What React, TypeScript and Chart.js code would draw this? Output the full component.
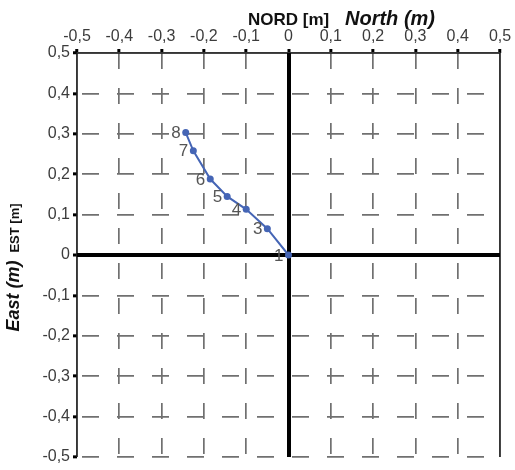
import { useEffect, useRef } from "react";
import { Chart, registerables } from "chart.js";

Chart.register(...registerables);

// Data (North = x, East = y), metres
const northValues = [0, -0.05, -0.1, -0.145, -0.185, -0.225, -0.243];
const eastValues = [0, 0.065, 0.113, 0.145, 0.188, 0.258, 0.303];
const pointLabels = ["1", "3", "4", "5", "6", "7", "8"];

const axisMin = -0.5;
const axisMax = 0.5;
const axisStep = 0.1;

const titleNord = "NORD [m]";
const titleNorth = "North (m)";
const titleEst = "EST [m]";
const titleEast = "East (m)";

const FONT = "'Liberation Sans', Arial, sans-serif";

const fmt = (v: number) => {
  if (Math.abs(v) < 1e-9) return "0";
  return v.toFixed(1).replace(".", ",");
};

const isZero = (v: number) => Math.abs(v) < 1e-9;
const isEdge = (v: number) => Math.abs(Math.abs(v) - 0.5) < 1e-9;
const isTop = (v: number) => Math.abs(v - 0.5) < 1e-9;

const overlayPlugin = {
  id: "overlay",
  beforeDatasetsDraw(chart: any) {
    const { ctx, chartArea, scales } = chart;
    const xs = scales.x;
    const ys = scales.y;
    ctx.save();
    ctx.strokeStyle = "#222";
    ctx.lineWidth = 1.5;
    ctx.setLineDash([]);
    const xl = xs.getPixelForValue(axisMin);
    const xr = xs.getPixelForValue(axisMax);
    const yt = ys.getPixelForValue(axisMax);
    ctx.beginPath();
    ctx.moveTo(xl, chartArea.bottom);
    ctx.lineTo(xl, yt);
    ctx.lineTo(xr, yt);
    ctx.lineTo(xr, chartArea.bottom);
    ctx.stroke();
    ctx.strokeStyle = "#000";
    ctx.lineWidth = 4;
    const x0 = Math.round(xs.getPixelForValue(0));
    const y0 = Math.round(ys.getPixelForValue(0));
    ctx.beginPath();
    ctx.moveTo(x0, chartArea.top);
    ctx.lineTo(x0, chartArea.bottom);
    ctx.moveTo(chartArea.left, y0);
    ctx.lineTo(chartArea.right, y0);
    ctx.stroke();
    ctx.restore();
  },
  afterDatasetsDraw(chart: any) {
    const { ctx } = chart;
    const meta = chart.getDatasetMeta(0);
    ctx.save();
    ctx.fillStyle = "#555";
    ctx.font = `17px ${FONT}`;
    ctx.textAlign = "right";
    ctx.textBaseline = "middle";
    meta.data.forEach((el: any, i: number) => {
      ctx.fillText(pointLabels[i], el.x - 5, el.y + 1);
    });
    ctx.restore();
  },
  afterDraw(chart: any) {
    const { ctx } = chart;
    ctx.save();
    ctx.fillStyle = "#111";
    ctx.textBaseline = "alphabetic";
    ctx.textAlign = "left";
    ctx.font = `bold 17px ${FONT}`;
    ctx.fillText(titleNord, 248, 25);
    ctx.font = `italic bold 20px ${FONT}`;
    ctx.fillText(titleNorth, 345, 25);
    ctx.textAlign = "center";
    ctx.save();
    ctx.translate(19, 228);
    ctx.rotate(-Math.PI / 2);
    ctx.font = `bold 13px ${FONT}`;
    ctx.fillText(titleEst, 0, 0);
    ctx.restore();
    ctx.save();
    ctx.translate(19, 296);
    ctx.rotate(-Math.PI / 2);
    ctx.font = `italic bold 18px ${FONT}`;
    ctx.fillText(titleEast, 0, 0);
    ctx.restore();
    ctx.restore();
  },
};

export default function App() {
  const canvasRef = useRef<HTMLCanvasElement | null>(null);

  useEffect(() => {
    if (!canvasRef.current) return;
    const gridColor = (c: any) =>
      isZero(c.tick.value) ? "#000" : "#707070";
    const chart = new Chart(canvasRef.current, {
      type: "scatter",
      data: {
        datasets: [
          {
            data: northValues.map((x, i) => ({ x, y: eastValues[i] })),
            showLine: true,
            borderColor: "#4565b5",
            backgroundColor: "#4565b5",
            borderWidth: 2,
            pointRadius: 3.5,
            pointBorderWidth: 0,
          },
        ],
      },
      options: {
        responsive: false,
        animation: false,
        devicePixelRatio: 1,
        layout: { padding: { left: 0, top: 0, right: 15, bottom: 13 } },
        plugins: {
          legend: { display: false },
          tooltip: { enabled: false },
        },
        scales: {
          x: {
            type: "linear",
            position: "top",
            min: axisMin,
            max: axisMax,
            afterFit: (s: any) => {
              s.height = 53;
            },
            ticks: {
              stepSize: axisStep,
              color: "#3c3c3c",
              font: { family: FONT, size: 16 },
              padding: 3,
              maxRotation: 0,
              autoSkip: false,
              callback: (v: any) => fmt(Number(v)),
            },
            grid: {
              color: gridColor,
              lineWidth: (c: any) =>
                isZero(c.tick.value) ? 4 : isEdge(c.tick.value) ? 1.5 : 1.7,
              tickColor: "#000",
              tickWidth: 3,
              tickLength: 4,
            },
            border: {
              display: false,
              dash: (c: any) =>
                isZero(c.tick.value) || isEdge(c.tick.value) ? [] : [16, 19],
              dashOffset: 0,
            },
          },
          y: {
            type: "linear",
            position: "left",
            min: axisMin,
            max: axisMax,
            afterFit: (s: any) => {
              s.width = 77;
            },
            ticks: {
              stepSize: axisStep,
              color: "#3c3c3c",
              font: { family: FONT, size: 16 },
              padding: 3,
              autoSkip: false,
              callback: (v: any) => fmt(Number(v)),
            },
            grid: {
              color: gridColor,
              lineWidth: (c: any) =>
                isZero(c.tick.value) ? 4 : isTop(c.tick.value) ? 1.5 : 1.7,
              tickColor: "#000",
              tickWidth: 3,
              tickLength: 4,
            },
            border: {
              display: false,
              dash: (c: any) =>
                isZero(c.tick.value) || isTop(c.tick.value) ? [] : [17, 18],
              dashOffset: 30,
            },
          },
        },
      },
      plugins: [overlayPlugin],
    });
    return () => chart.destroy();
  }, []);

  return (
    <div
      style={{
        position: "fixed",
        left: 0,
        top: 0,
        width: 515,
        height: 470,
        background: "#fff",
      }}
    >
      <canvas ref={canvasRef} width={515} height={470} />
    </div>
  );
}
